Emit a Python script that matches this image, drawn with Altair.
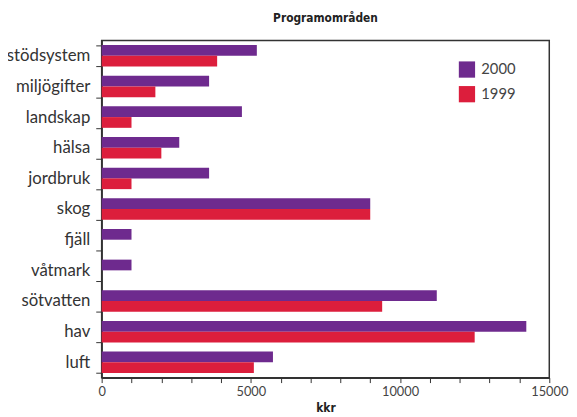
import altair as alt
import pandas as pd

categories = ["stödsystem", "miljögifter", "landskap", "hälsa", "jordbruk", "skog",
              "fjäll", "våtmark", "sötvatten", "hav", "luft"]
values_2000 = [5200, 3600, 4700, 2600, 3600, 9000, 1000, 1000, 11230, 14230, 5740]
values_1999 = [3870, 1800, 1000, 2000, 1000, 9000, 0, 0, 9400, 12500, 5100]
years = ["2000", "1999"]
colors = ["#6E2A8E", "#DC1E3C"]
x_ticks = list(range(0, 15001, 1000))

rows = []
for c, v0, v1 in zip(categories, values_2000, values_1999):
    rows.append({"kategori": c, "år": "2000", "kkr": v0})
    rows.append({"kategori": c, "år": "1999", "kkr": v1})
df = pd.DataFrame(rows)

FONT = "Lato"
BOLD = "DejaVu Sans Condensed, Lato"

chart = alt.Chart(df).mark_bar().encode(
    y=alt.Y("kategori:N", sort=categories,
            scale=alt.Scale(paddingInner=0.3, paddingOuter=0.15),
            axis=alt.Axis(title=None, tickBand="extent", labelFontSize=17, labelFont=FONT,
                          labelColor="#333", labelPadding=6, tickSize=6, tickColor="#333",
                          domainColor="#333", domainWidth=1.5)),
    yOffset=alt.YOffset("år:N", sort=years, scale=alt.Scale(domain=years, paddingInner=0)),
    x=alt.X("kkr:Q", scale=alt.Scale(domain=[0, 15000], nice=False),
            axis=alt.Axis(title="kkr", values=x_ticks,
                          labelExpr="datum.value % 5000 === 0 ? datum.label : ''",
                          format="d", labelFontSize=13, labelFont=FONT, labelColor="#444",
                          labelPadding=3, tickSize=5, tickColor="#333", domainColor="#333",
                          domainWidth=1.5, grid=False, titleFont=BOLD, titleFontSize=12,
                          titleFontWeight="bold", titleColor="#222", titlePadding=4,
                          labelFlush=False)),
    color=alt.Color("år:N", sort=years,
                    scale=alt.Scale(domain=years, range=colors),
                    legend=alt.Legend(title=None, orient="none", legendX=362, legendY=21,
                                      symbolType="square", symbolSize=272,
                                      symbolStrokeWidth=0, labelFont=FONT,
                                      labelFontSize=15, labelColor="#444",
                                      labelOffset=6, rowPadding=8)),
).properties(
    width=454,
    height=342,
    title=alt.TitleParams("Programområden", font=BOLD, fontSize=12, fontWeight="bold",
                          color="#222", anchor="middle", offset=7),
    autosize=alt.AutoSizeParams(type="none"),
    padding={"left": 95, "top": 30, "right": 20, "bottom": 37},
).configure_view(
    stroke="#333", strokeWidth=1.5
)

chart.save("out.html", embed_options={"renderer": "svg", "actions": False})
